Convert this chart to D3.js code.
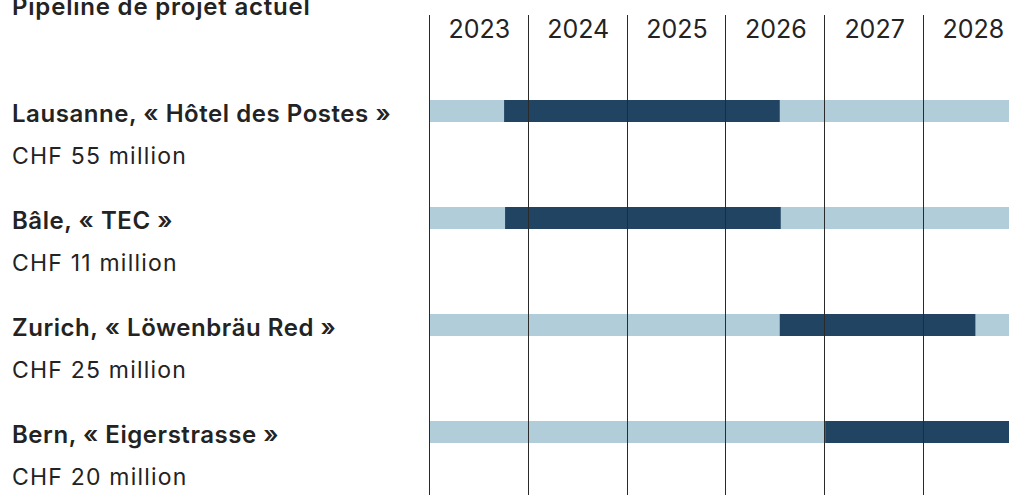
<!DOCTYPE html>
<html><head><meta charset="utf-8">
<script src="https://cdn.jsdelivr.net/npm/d3@7"></script>
<style>
html,body{margin:0;padding:0;background:#fff;overflow:hidden}
svg{display:block}
text{font-family:Inter,"Liberation Sans",Arial,sans-serif;fill:#232323}
</style></head>
<body><svg id="c" width="1009" height="495"></svg>
<script>
const title = "Pipeline de projet actuel";
const years = [2023, 2024, 2025, 2026, 2027, 2028];
const projects = ["Lausanne, « Hôtel des Postes »", "Bâle, « TEC »", "Zurich, « Löwenbräu Red »", "Bern, « Eigerstrasse »"];
const costs = ["CHF 55 million", "CHF 11 million", "CHF 25 million", "CHF 20 million"];
const phaseStart = [2023.75, 2023.76, 2026.54, 2027.0];
const phaseEnd = [2026.54, 2026.55, 2028.52, 2029.0];
const timelineStart = 2023, timelineEnd = 2029;

const svg = d3.select("#c");
const x = d3.scaleLinear().domain([timelineStart, timelineEnd]).range([430, 1022.8]);
const y = d3.scalePoint().domain(projects).range([100, 421]);
const barH = 22;

const rows = projects.map((p, i) => ({name: p, cost: costs[i], s: phaseStart[i], e: phaseEnd[i]}));

svg.append("g").selectAll("rect").data(rows).join("rect")
  .attr("x", x(timelineStart)).attr("y", d => y(d.name))
  .attr("width", x(timelineEnd) - x(timelineStart)).attr("height", barH)
  .attr("fill", "#b1cdd9");
svg.append("g").selectAll("rect").data(rows).join("rect")
  .attr("x", d => x(d.s)).attr("y", d => y(d.name))
  .attr("width", d => x(d.e) - x(d.s)).attr("height", barH)
  .attr("fill", "#204462");

svg.append("g").selectAll("line").data(years).join("line")
  .attr("x1", d => Math.round(x(d)) - 0.5).attr("x2", d => Math.round(x(d)) - 0.5)
  .attr("y1", 15).attr("y2", 495)
  .attr("stroke", "#2a2a2a").attr("stroke-width", 1);

svg.append("g").selectAll("text").data(years).join("text")
  .attr("x", d => x(d + 0.5)).attr("y", 38)
  .attr("text-anchor", "middle").attr("font-size", 25).attr("font-weight", 400)
  .text(d => d);

svg.append("text").attr("x", 12).attr("y", 15)
  .attr("font-size", 24).attr("font-weight", 600).attr("letter-spacing", 0.8).text(title);

const lab = svg.append("g").selectAll("g").data(rows).join("g");
lab.append("text").attr("x", 12).attr("y", d => y(d.name) + 22)
  .attr("font-size", 24).attr("font-weight", 600).attr("letter-spacing", 0.55).text(d => d.name);
lab.append("text").attr("x", 12).attr("y", d => y(d.name) + 64)
  .attr("font-size", 23).attr("font-weight", 400).attr("letter-spacing", 1.2).text(d => d.cost);
</script></body></html>
